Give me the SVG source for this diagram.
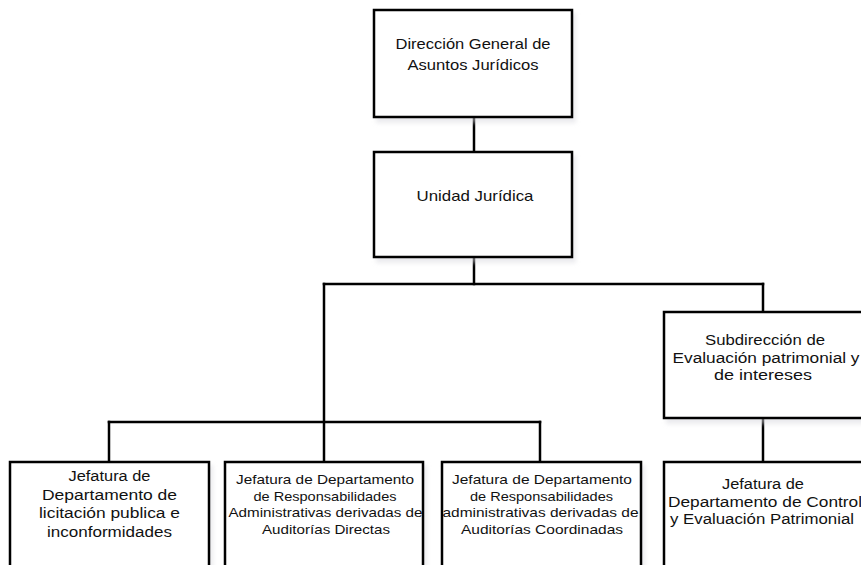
<svg xmlns="http://www.w3.org/2000/svg" width="861" height="565" viewBox="0 0 861 565">
  <defs>
    <filter id="soft" x="-10%" y="-10%" width="120%" height="125%">
      <feGaussianBlur stdDeviation="2"/>
    </filter>
  </defs>
  <style>
    .box { fill: #ffffff; stroke: #000000; stroke-width: 2.5; }
    .shadow { fill: #d8d8de; opacity: 0.5; filter: url(#soft); }
    .wire { fill: none; stroke: #000000; stroke-width: 2.5; stroke-linecap: square; }
    text { font-family: "Century Gothic", "Liberation Sans", "Open Sans", sans-serif; fill: #111111; text-anchor: middle; }
    .l { font-size: 15px; }
    .m { font-size: 14px; }
    .s { font-size: 13px; }
  </style>
  <rect width="861" height="565" fill="#ffffff"/>

  <!-- connectors -->
  <g id="connectors">
    <path class="wire" d="M474 117 V152"/>
    <path class="wire" d="M474 257 V284"/>
    <path class="wire" d="M324 284 H763"/>
    <path class="wire" d="M324 284 V462"/>
    <path class="wire" d="M109 422 H540"/>
    <path class="wire" d="M109 422 V462"/>
    <path class="wire" d="M540 422 V462"/>
    <path class="wire" d="M763 284 V312"/>
    <path class="wire" d="M763 418 V462"/>
  </g>

  <g id="direccion-general">
    <rect class="shadow" x="376" y="13" width="200" height="110"/>
    <rect class="box" x="374" y="10" width="198" height="107"/>
    <text class="l" x="473" y="49" textLength="155" lengthAdjust="spacingAndGlyphs">Dirección General de</text>
    <text class="l" x="473" y="70" textLength="131" lengthAdjust="spacingAndGlyphs">Asuntos Jurídicos</text>
  </g>

  <g id="unidad-juridica">
    <rect class="shadow" x="376" y="155" width="200" height="108"/>
    <rect class="box" x="374" y="152" width="198" height="105"/>
    <text class="l" x="475" y="201" textLength="117" lengthAdjust="spacingAndGlyphs">Unidad Jurídica</text>
  </g>

  <g id="subdireccion-evaluacion">
    <rect class="shadow" x="666" y="315" width="202" height="109"/>
    <rect class="box" x="664" y="312" width="202" height="106"/>
    <text class="m" x="765" y="345" textLength="120" lengthAdjust="spacingAndGlyphs">Subdirección de</text>
    <text class="m" x="766" y="363" textLength="187" lengthAdjust="spacingAndGlyphs">Evaluación patrimonial y</text>
    <text class="m" x="763" y="380" textLength="98" lengthAdjust="spacingAndGlyphs">de intereses</text>
  </g>

  <g id="jefatura-licitacion">
    <rect class="shadow" x="12" y="465" width="201" height="140"/>
    <rect class="box" x="10" y="462" width="199" height="140"/>
    <text class="m" x="109.5" y="481" textLength="82" lengthAdjust="spacingAndGlyphs">Jefatura de</text>
    <text class="m" x="109.5" y="500" textLength="135" lengthAdjust="spacingAndGlyphs">Departamento de</text>
    <text class="m" x="109.5" y="518" textLength="141" lengthAdjust="spacingAndGlyphs">licitación publica e</text>
    <text class="m" x="109.5" y="537" textLength="125" lengthAdjust="spacingAndGlyphs">inconformidades</text>
  </g>

  <g id="jefatura-auditorias-directas">
    <rect class="shadow" x="227" y="465" width="200" height="140"/>
    <rect class="box" x="225" y="462" width="198" height="140"/>
    <text class="s" x="325" y="484" textLength="178" lengthAdjust="spacingAndGlyphs">Jefatura de Departamento</text>
    <text class="s" x="325" y="500.5" textLength="143" lengthAdjust="spacingAndGlyphs">de Responsabilidades</text>
    <text class="s" x="325.5" y="517" textLength="194" lengthAdjust="spacingAndGlyphs">Administrativas derivadas de</text>
    <text class="s" x="326" y="533.5" textLength="128" lengthAdjust="spacingAndGlyphs">Auditorías Directas</text>
  </g>

  <g id="jefatura-auditorias-coordinadas">
    <rect class="shadow" x="444" y="465" width="201" height="140"/>
    <rect class="box" x="442" y="462" width="199" height="140"/>
    <text class="s" x="542" y="484" textLength="180" lengthAdjust="spacingAndGlyphs">Jefatura de Departamento</text>
    <text class="s" x="541.5" y="500.5" textLength="143" lengthAdjust="spacingAndGlyphs">de Responsabilidades</text>
    <text class="s" x="540.5" y="517" textLength="196" lengthAdjust="spacingAndGlyphs">administrativas derivadas de</text>
    <text class="s" x="542" y="533.5" textLength="162" lengthAdjust="spacingAndGlyphs">Auditorías Coordinadas</text>
  </g>

  <g id="jefatura-control-patrimonial">
    <rect class="shadow" x="666" y="465" width="202" height="140"/>
    <rect class="box" x="664" y="462" width="202" height="140"/>
    <text class="m" x="763" y="489" textLength="82" lengthAdjust="spacingAndGlyphs">Jefatura de</text>
    <text class="m" x="765" y="507" textLength="194" lengthAdjust="spacingAndGlyphs">Departamento de Control</text>
    <text class="m" x="762" y="524" textLength="184" lengthAdjust="spacingAndGlyphs">y Evaluación Patrimonial</text>
  </g>
</svg>
